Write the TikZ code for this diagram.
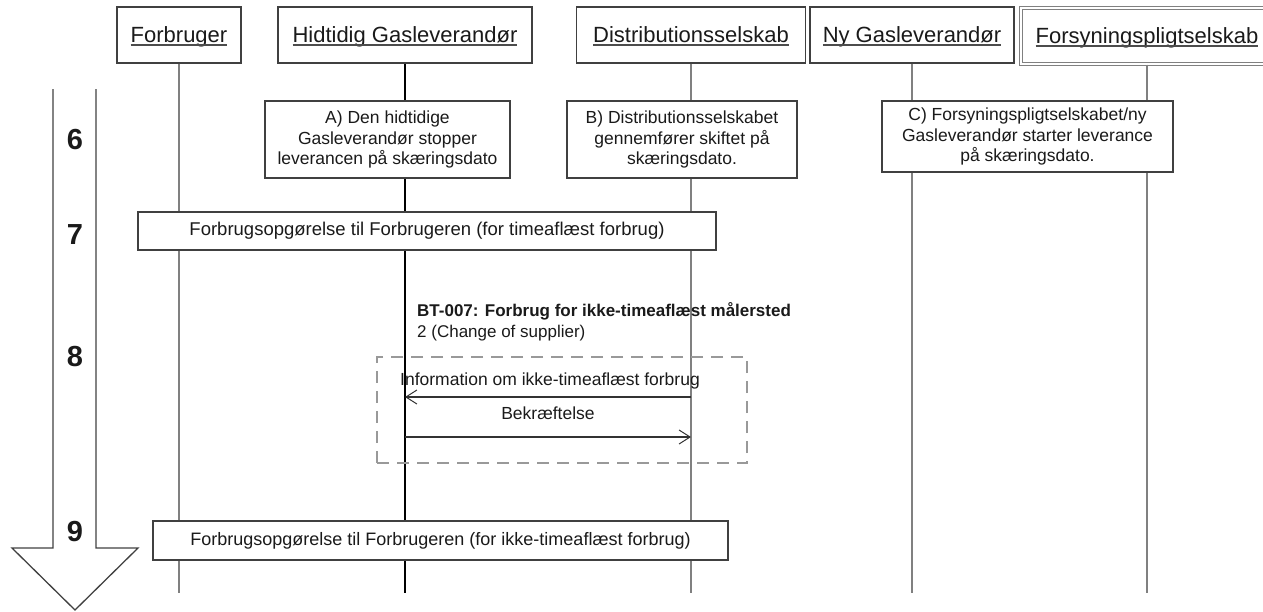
\documentclass[tikz,border=0pt]{standalone}
\usepackage{fontspec}
\setmainfont{Liberation Sans}
\usetikzlibrary{arrows.meta}
\definecolor{bordergray}{HTML}{404040}
\definecolor{lifegray}{HTML}{808080}
\definecolor{dashgray}{HTML}{999999}
\definecolor{txt}{HTML}{1A1A1A}
\newcommand\hdrtext[1]{\setbox0=\hbox{#1}\rlap{\copy0}\raisebox{-3.5pt}{\textcolor{black!70}{\rule{\wd0}{1.2pt}}}}
\begin{document}
\begin{tikzpicture}[x=1pt,y=-1pt,
  hdr/.style={draw=bordergray, line width=1.3pt, fill=white, minimum height=56pt,
    inner sep=0pt, text=txt, font=\fontsize{22}{26}\selectfont, text height=16pt, text depth=2pt},
  stepbox/.style={draw=bordergray, line width=1.3pt, fill=white, align=center, inner sep=0pt,
    text=txt, font=\fontsize{17.5}{20.5}\selectfont},
  rowbox/.style={draw=bordergray, line width=1.3pt, fill=white, inner sep=0pt,
    text=txt, font=\fontsize{18}{21}\selectfont},
  num/.style={text=txt, font=\bfseries\fontsize{29}{31}\selectfont, inner sep=0pt},
  life/.style={draw=lifegray, line width=1.8pt},
  lifeblack/.style={draw=black, line width=1.6pt},
  msg/.style={draw=black!80, line width=1.2pt, -{Straight Barb[length=11pt,width=14pt,line width=1pt]}},
  msglabel/.style={text=txt, font=\fontsize{17.5}{20}\selectfont, inner sep=0pt},
  groupbox/.style={draw=dashgray, line width=2.6pt, dash pattern=on 12pt off 8pt},
  bigarrow/.style={draw=black!75, line width=1.3pt}
]
\useasboundingbox (0,0) rectangle (1263,611);
\clip (0,0) rectangle (1263,611);

% header boxes
\node[hdr, minimum width=124pt] (forb) at (179,35) {\hdrtext{Forbruger}};
\node[hdr, minimum width=254pt] (hid) at (405,35) {\hdrtext{Hidtidig Gasleverandør}};
\node[hdr, minimum width=229pt] (dis) at (691,35) {\hdrtext{Distributionsselskab}};
\node[hdr, minimum width=204pt] (ny) at (912,35) {\hdrtext{Ny Gasleverandør}};
\node[hdr, minimum width=252pt, minimum height=56pt, draw=lifegray, line width=1pt, double=white, double distance=1.2pt] (fps) at (1147,36) {\hdrtext{Forsyningspligtselskab}};

% lifeline ends
\coordinate (forbE) at (179,593);
\coordinate (hidE) at (405,593);
\coordinate (disE) at (691,593);
\coordinate (nyE) at (912,593);
\coordinate (fpsE) at (1147,593);
\draw[life] (forb.south) -- (forbE);
\draw[lifeblack] (hid.south) -- (hidE);
\draw[life] (dis.south) -- (disE);
\draw[life] (ny.south) -- (nyE);
\draw[life] (fps.south) -- (fpsE);

% left time arrow
\draw[bigarrow] (53,89) -- (53,548) -- (12,548) -- (75,610) -- (138,548) -- (96,548) -- (96,89);
\node[num] (n6) at (75,140) {6};
\node[num] (n7) at (75,235) {7};
\node[num] (n8) at (75,357) {8};
\node[num] (n9) at (75,532) {9};

% step 6 boxes
\node[stepbox, minimum width=245pt, minimum height=77pt] (sa) at (387.5,139.5)
  {A) Den hidtidige\\Gasleverandør stopper\\leverancen på skæringsdato};
\node[stepbox, minimum width=230pt, minimum height=77pt] (sb) at (682,139.5)
  {B) Distributionsselskabet\\gennemfører skiftet på\\skæringsdato.};
\node[stepbox, minimum width=291pt, minimum height=71pt] (sc) at (1027.5,136.5)
  {C) Forsyningspligtselskabet/ny\\Gasleverandør starter leverance\\på skæringsdato.};

% step 7
\node[rowbox, minimum width=578pt, minimum height=38pt, font=\fontsize{18.5}{21}\selectfont] (r7) at (427,231)
  {Forbrugsopgørelse til Forbrugeren (for timeaflæst forbrug)};

% step 8
\node[anchor=north west, align=left, inner sep=0pt, text=txt, font=\fontsize{17}{21}\selectfont] (bt) at (417,302)
  {{\bfseries BT-007: Forbrug for ikke-timeaflæst målersted}\\2 (Change of supplier)};
\node[groupbox, minimum width=370pt, minimum height=106pt, inner sep=0pt] (grp) at (562,410) {};
\coordinate (m1s) at (691,397);
\coordinate (m1e) at (405,397);
\coordinate (m2s) at (405,437);
\coordinate (m2e) at (691,437);
\draw[msg] (m1s) -- (m1e);
\draw[msg] (m2s) -- (m2e);
\node[msglabel] (l1) at (550,381) {Information om ikke-timeaflæst forbrug};
\node[msglabel] (l2) at (548,413) {Bekræftelse};

% step 9
\node[rowbox, minimum width=575pt, minimum height=39pt] (r9) at (440.5,540.5)
  {Forbrugsopgørelse til Forbrugeren (for ikke-timeaflæst forbrug)};
\end{tikzpicture}
\end{document}
